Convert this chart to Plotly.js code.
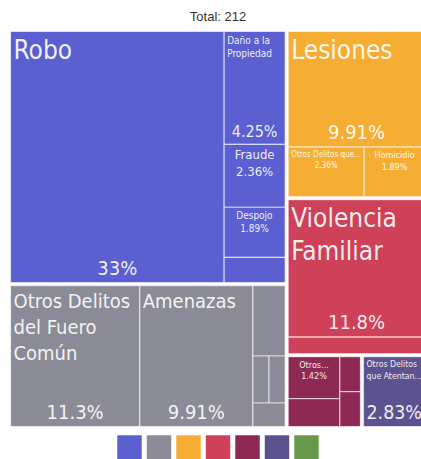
<!DOCTYPE html>
<html><head><meta charset="utf-8">
<script src="https://cdn.plot.ly/plotly-3.0.1.min.js"></script>
<style>html,body{margin:0;padding:0;background:#fff;overflow:hidden}#chart{width:428px;height:459px}</style>
</head><body><div id="chart"></div>
<script>
// ---- data ----
const groupIds    = ["patrimonio","otros_bienes","vida","familia","sexual","libertad","sociedad"];
const groupColors = ["#5b5fcf","#8b8c98","#f5ae33","#ce4158","#8e2953","#5d5290","#68994a"];

const leafLabels = ["Robo","Daño a la Propiedad","Fraude","Despojo","Abuso de Confianza",
  "Otros Delitos del Fuero Común","Amenazas","Narcomenudeo","Allanamiento de Morada","Falsificación","Contra el Medio Ambiente",
  "Lesiones","Otros Delitos que...","Homicidio",
  "Violencia Familiar","Incumplimiento de Obligaciones Familiares",
  "Otros...","Abuso Sexual","Acoso Sexual","Violación",
  "Otros Delitos que Atentan..."];
const leafGroups = ["patrimonio","patrimonio","patrimonio","patrimonio","patrimonio",
  "otros_bienes","otros_bienes","otros_bienes","otros_bienes","otros_bienes","otros_bienes",
  "vida","vida","vida",
  "familia","familia",
  "sexual","sexual","sexual","sexual",
  "libertad"];
const leafValues = [70,9,5,4,2, 24,21,3,1,1,1, 21,5,4, 25,3, 3,2,1,1, 6];
// display text (wrapped) and how it is shown: "big" = label top-left + % bottom, "small" = label+% top, "" = none
const leafDisplay = ["Robo","Daño a la<br>Propiedad","Fraude","Despojo","",
  "Otros Delitos<br>del Fuero<br>Común","Amenazas","","","","",
  "Lesiones","Otros Delitos que...","Homicidio",
  "Violencia<br>Familiar","",
  "Otros...","","","",
  "Otros Delitos<br>que Atentan..."];
const leafMode = ["big","big","small","small","",
  "big","big","","","","",
  "big","small","small",
  "big","",
  "small","","","",
  "big"];
const labelSize = [26,10,13,10,10, 20,20,10,10,10,10, 26,9,9, 26,10, 9,10,10,10, 10];
const pctSize   = [20,16,13,10,10, 20,20,10,10,10,10, 20,9,9, 20,10, 9,10,10,10, 20];

// ---- build nodes ----
const ids=["root"], labels=["Total"], parents=[""], values=[0], colors=["#ffffff"], lineW=[0];
const tLabel=[""], tPct=[""], tSmall=[""], sLabel=[10], sPct=[10];
groupIds.forEach((g,gi)=>{
  if(!leafGroups.includes(g)) return;
  ids.push(g); labels.push(g); parents.push("root"); values.push(0);
  colors.push("#ffffff"); lineW.push(0);
  tLabel.push(""); tPct.push(""); tSmall.push(""); sLabel.push(10); sPct.push(10);
});
leafLabels.forEach((l,i)=>{
  const gi = groupIds.indexOf(leafGroups[i]);
  ids.push("leaf"+i); labels.push(l); parents.push(leafGroups[i]); values.push(leafValues[i]);
  colors.push(groupColors[gi]); lineW.push(1.2);
  const m = leafMode[i];
  tLabel.push(m==="big" ? leafDisplay[i] : "");
  tPct.push(m==="big" ? "%{percentRoot:.3~p}" : "");
  tSmall.push(m==="small" ? leafDisplay[i]+"<br>%{percentRoot:.3~p}" : "");
  sLabel.push(labelSize[i]); sPct.push(pctSize[i]);
});

const W = 428, H = 459;
const FONT = "'Liberation Sans Narrow','DejaVu Sans Condensed','Roboto',sans-serif";
const dom = {x:[7.5/W, 1], y:[(H-429.5)/H, (H-28.5)/H]};
const pad = {t:1.5,l:1.5,r:1.5,b:1.5};
function base(extra){
  return Object.assign({
    type:"treemap", ids, labels, parents, values, branchvalues:"remainder",
    sort:true, domain:dom, pathbar:{visible:false},
    tiling:{packing:"squarify", squarifyratio:1.618, pad:0},
    leaf:{opacity:1},
  }, extra);
}
const traces = [
  base({
    marker:{colors, line:{color:"rgba(255,255,255,0.6)", width:lineW}, pad, depthfade:false},
    texttemplate:tLabel, textposition:"top left",
    textfont:{family:FONT, size:sLabel, color:"rgba(255,255,255,0.92)"},
    hovertemplate:"%{label}: %{value}<extra></extra>"
  }),
  base({
    marker:{colors:ids.map(()=>"rgba(0,0,0,0)"), line:{width:0}, pad, depthfade:false},
    texttemplate:tPct, textposition:"bottom center",
    textfont:{family:FONT, size:sPct, color:"rgba(255,255,255,0.92)"},
    hoverinfo:"skip"
  }),
  base({
    marker:{colors:ids.map(()=>"rgba(0,0,0,0)"), line:{width:0}, pad, depthfade:false},
    texttemplate:tSmall, textposition:"top center",
    textfont:{family:FONT, size:sPct, color:"rgba(255,255,255,0.92)"},
    hoverinfo:"skip"
  })
];

const total = leafValues.reduce((a,b)=>a+b,0);
const shapes = groupColors.map((c,i)=>({
  type:"rect", xref:"paper", yref:"paper",
  x0:(117+i*29.5)/W, x1:(142+i*29.5)/W, y0:-1/H, y1:24/H,
  fillcolor:c, line:{color:"rgba(255,255,255,0.55)", width:1}
}));

const layout = {
  width:W, height:H, margin:{l:0,r:0,t:0,b:0},
  paper_bgcolor:"#fff",
  title:{text:"Total: "+total, x:218/W, xanchor:"center", y:1-16/H, yanchor:"middle",
         font:{family:"'Liberation Sans',Arial,sans-serif", size:13, color:"#333"}},
  shapes
};
Plotly.newPlot("chart", traces, layout, {displayModeBar:false, staticPlot:true});
</script></body></html>
